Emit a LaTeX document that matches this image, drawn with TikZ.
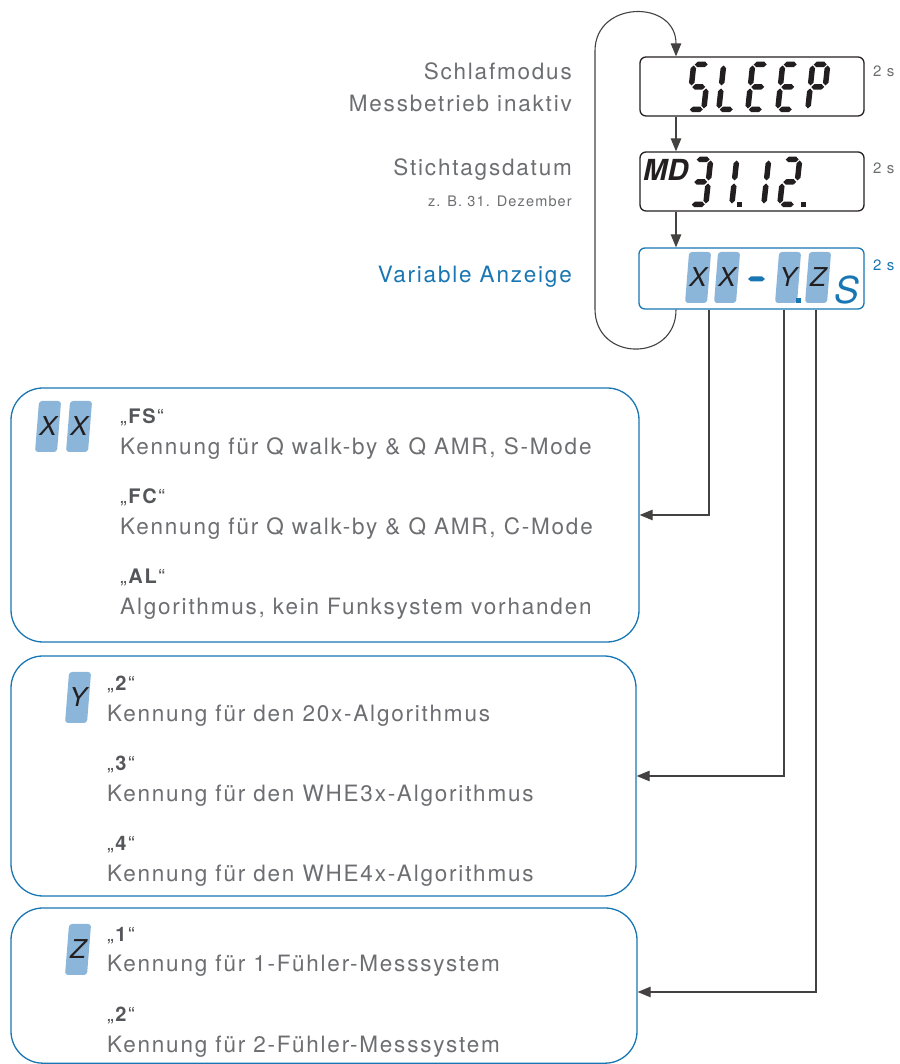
\documentclass[tikz,border=0pt]{standalone}
\usepackage{fontspec}
\setmainfont[LetterSpace=8]{TeX Gyre Heros}
\newfontfamily\lcdfont{TeX Gyre Heros}
\usetikzlibrary{arrows.meta}

\definecolor{tagblue}{RGB}{24,118,178}
\definecolor{cellblue}{RGB}{140,182,217}
\definecolor{textgray}{RGB}{109,110,113}
\definecolor{labelgray}{RGB}{85,86,90}
\definecolor{lcdblack}{RGB}{35,31,32}

\tikzset{
  flow/.style={draw=lcdblack!85, line width=1.1pt, -{Triangle[length=13pt,width=10.5pt]}},
  lcdbox/.style={draw=lcdblack, line width=1.3pt, rounded corners=6pt, minimum width=224pt, minimum height=59pt, inner sep=0pt},
  infobox/.style={draw=tagblue, line width=1.3pt, rounded corners=32pt, inner sep=0pt},
  desc/.style={anchor=base west, inner sep=0pt, text=textgray, font=\fontsize{22.5}{26}\selectfont},
  tag/.style={anchor=base west, inner sep=0pt, text=labelgray, font=\fontsize{20}{24}\selectfont},
  side/.style={anchor=base east, inner sep=0pt, text=textgray, font=\fontsize{22.5}{26}\selectfont},
  secs/.style={anchor=base west, inner sep=0pt, text=textgray, font=\fontsize{15}{18}\selectfont},
  celltext/.style={inner sep=0pt, text=lcdblack, font=\lcdfont\itshape\fontsize{26}{30}\selectfont},
  pics/hseg/.style={code={\fill (0,0) -- (2.75,2.75) -- (10.25,2.75) -- (13,0) -- (10.25,-2.75) -- (2.75,-2.75) -- cycle;}},
  pics/vseg/.style={code={\fill (0,0) -- (2.75,2.75) -- (2.75,17.25) -- (0,20) -- (-2.75,17.25) -- (-2.75,2.75) -- cycle;}},
  pics/seg a/.style={code={\pic at (3.5,47.5) {hseg};}},
  pics/seg g/.style={code={\pic at (3.5,25) {hseg};}},
  pics/seg d/.style={code={\pic at (3.5,2.5) {hseg};}},
  pics/seg f/.style={code={\pic at (2.5,26.5) {vseg};}},
  pics/seg e/.style={code={\pic at (2.5,3.5) {vseg};}},
  pics/seg b/.style={code={\pic at (17.5,26.5) {vseg};}},
  pics/seg c/.style={code={\pic at (17.5,3.5) {vseg};}},
}

% un caractere de l'afficheur : coin bas gauche, liste des segments
\newcommand{\lcdchar}[2]{%
  \begin{scope}[shift={#1}, xslant=0.11, transform shape, lcdblack]
    \foreach \s in {#2} {\pic {seg \s};}
  \end{scope}}

% une case bleue avec sa lettre : coin bas gauche, lettre, nom
\newcommand{\lcdcell}[3]{%
  \begin{scope}[shift={#1}]
    \fill[cellblue, rounded corners=3pt, xslant=0.08] (0,0) rectangle (22,51);
    \node[celltext] (#3) at (13,25.5) {#2};
  \end{scope}}

\begin{document}
\begin{tikzpicture}[x=1pt, y=1pt]
        \useasboundingbox (0,0) rectangle (899,1064);

        % les trois afficheurs
        \node[lcdbox] (sleep) at (752,977.5) {};
        \node[lcdbox] (md) at (752,882.5) {};
        \node[lcdbox, draw=tagblue, minimum width=225pt, minimum height=61pt] (var) at (751.5,785.5) {};

        % SLEEP
        \lcdchar{(686,952)}{a,f,g,c,d}
        \lcdchar{(716,952)}{f,e,d}
        \lcdchar{(745,952)}{a,f,g,e,d}
        \lcdchar{(775,952)}{a,f,g,e,d}
        \lcdchar{(805,952)}{a,b,f,g,e}

        % MD 31.12.
        \node[anchor=base west, inner sep=0pt, text=lcdblack, font=\lcdfont\bfseries\itshape\fontsize{29}{32}\selectfont] (mdtxt) at (643,883) {MD};
        \lcdchar{(688,857)}{a,b,g,c,d}
        \lcdchar{(714,857)}{b,c}
        \fill[lcdblack] (737,857) rectangle +(4.5,4.5);
        \lcdchar{(746,857)}{b,c}
        \lcdchar{(777,857)}{a,b,g,e,d}
        \fill[lcdblack] (801,857) rectangle +(4.5,4.5);

        % XX-Y.Z S
        \lcdcell{(685,761)}{X}{vx1}
        \lcdcell{(714,761)}{X}{vx2}
        \lcdcell{(775,761)}{Y}{vy}
        \lcdcell{(805,761)}{Z}{vz}
        \fill[tagblue] (748,785) -- (751,787.5) -- (762,787.5) -- (765,785) -- (762,782.5) -- (751,782.5) -- cycle;
        \fill[tagblue] (796,761) rectangle +(4.5,4.5);
        \node[anchor=base west, inner sep=0pt, text=tagblue, font=\lcdfont\itshape\fontsize{37}{40}\selectfont] (unit) at (834,760) {S};

        % textes a gauche et durees
        \node[side] (sleeplbl) at (572,984) {Schlafmodus};
        \node[side] (sleepsub) at (572,952) {Messbetrieb inaktiv};
        \node[side] (mdlbl) at (572,888) {Stichtagsdatum};
        \node[side, font=\fontsize{14.5}{17}\selectfont] (mdsub) at (572,857) {z. B. 31. Dezember};
        \node[side, text=tagblue] (varlbl) at (572,781) {Variable Anzeige};
        \node[secs] (tsleep) at (873,987) {2 s};
        \node[secs] (tmd) at (873,890) {2 s};
        \node[secs, text=tagblue] (tvar) at (873,793) {2 s};

        % enchainement des affichages
        \coordinate (col) at (676,0);
        \draw[flow] (sleep.south -| col) -- (md.north -| col);
        \draw[flow] (md.south -| col) -- (var.north -| col);
        \draw[flow] (var.south -| col)
        .. controls +(0,-53) and +(0,-53) .. (595,755)
        -- (595,1013)
        .. controls +(0,51) and +(0,57) .. (sleep.north -| col);

        % cadres d'explication
        \node[infobox, minimum width=628pt, minimum height=254pt] (xxbox) at (325,549) {};
        \node[infobox, minimum width=625pt, minimum height=240pt] (ybox) at (323.5,288) {};
        \node[infobox, minimum width=626pt, minimum height=155.2pt] (zbox) at (324,78.4) {};

        \lcdcell{(35,612)}{X}{bx1}
        \lcdcell{(66,612)}{X}{bx2}
        \node[tag] (fs) at (120,640) {„\textbf{FS}“};
        \node[desc] (fsd) at (120,609) {Kennung für Q walk-by \& Q AMR, S-Mode};
        \node[tag] (fc) at (120,560) {„\textbf{FC}“};
        \node[desc] (fcd) at (120,529) {Kennung für Q walk-by \& Q AMR, C-Mode};
        \node[tag] (al) at (120,480) {„\textbf{AL}“};
        \node[desc] (ald) at (120,449) {Algorithmus, kein Funksystem vorhanden};

        \lcdcell{(65,341)}{Y}{by}
        \node[tag] (y2) at (107,373) {„\textbf{2}“};
        \node[desc] (y2d) at (107,342) {Kennung für den 20x-Algorithmus};
        \node[tag] (y3) at (107,293) {„\textbf{3}“};
        \node[desc] (y3d) at (107,262) {Kennung für den WHE3x-Algorithmus};
        \node[tag] (y4) at (107,213) {„\textbf{4}“};
        \node[desc] (y4d) at (107,182) {Kennung für den WHE4x-Algorithmus};

        \lcdcell{(65,89)}{Z}{bz}
        \node[tag] (z1) at (107,122) {„\textbf{1}“};
        \node[desc] (z1d) at (107,92) {Kennung für 1-Fühler-Messsystem};
        \node[tag] (z2) at (107,42) {„\textbf{2}“};
        \node[desc] (z2d) at (107,12) {Kennung für 2-Fühler-Messsystem};

        % renvois vers les cadres
        \coordinate (xxtap) at (709,0);
        \coordinate (ytap) at (784,0);
        \coordinate (ztap) at (816,72);
        \draw[flow] (var.south -| xxtap) |- (xxbox.east);
        \draw[flow] (var.south -| ytap) |- (ybox.east);
        \draw[flow] (var.south -| ztap) |- (zbox.east |- ztap);
    \end{tikzpicture}
\end{document}
